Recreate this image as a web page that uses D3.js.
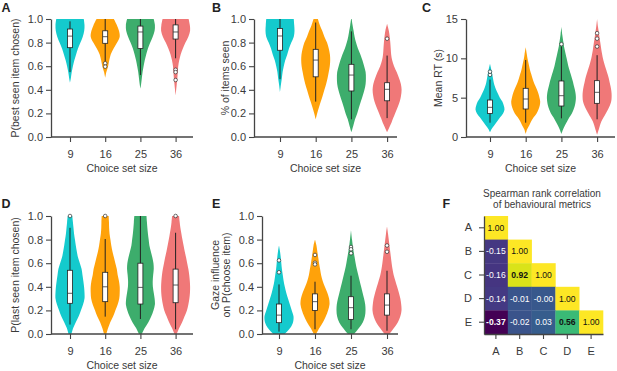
<!DOCTYPE html>
<html>
<head>
<meta charset="utf-8">
<script src="https://cdn.jsdelivr.net/npm/d3@7"></script>
<style>
  body { margin: 0; background: #fff; }
  text { font-family: "Liberation Sans", Arial, sans-serif; }
</style>
</head>
<body>
<div id="canvas"></div>
<script>
// Categories and colours

let sizes = ["9", "16", "25", "36"];
let colors = ["#14CACD", "#FFA20A", "#3DAD6C", "#F07878"];

// Violin profiles: [value, relative half width]

let violinA = [
    [[0.46,0],[0.5,0.06],[0.55,0.12],[0.6,0.2],[0.65,0.3],[0.7,0.42],[0.75,0.55],[0.8,0.72],[0.85,0.88],[0.9,0.98],[0.95,1.0],[1.0,0.95]],
    [[0.5,0],[0.55,0.08],[0.6,0.2],[0.65,0.28],[0.7,0.38],[0.75,0.58],[0.8,0.82],[0.85,1.0],[0.9,0.95],[0.95,0.8],[1.0,0.6]],
    [[0.41,0],[0.45,0.05],[0.5,0.1],[0.55,0.15],[0.6,0.22],[0.65,0.3],[0.7,0.4],[0.75,0.52],[0.8,0.68],[0.85,0.85],[0.9,0.98],[0.95,1.0],[1.0,0.92]],
    [[0.35,0],[0.4,0.04],[0.45,0.08],[0.5,0.12],[0.55,0.15],[0.6,0.18],[0.65,0.25],[0.7,0.35],[0.75,0.5],[0.8,0.68],[0.85,0.88],[0.9,1.0],[0.95,0.98],[1.0,0.9]]
];
let violinB = [
    [[0.38,0],[0.45,0.07],[0.5,0.13],[0.55,0.18],[0.6,0.26],[0.65,0.36],[0.7,0.5],[0.75,0.62],[0.8,0.78],[0.85,0.95],[0.9,1.0],[0.95,0.98],[1.0,0.95]],
    [[0.15,0],[0.2,0.1],[0.25,0.22],[0.3,0.35],[0.35,0.48],[0.4,0.6],[0.45,0.72],[0.5,0.82],[0.55,0.9],[0.6,0.97],[0.65,1.0],[0.7,0.98],[0.75,0.9],[0.8,0.78],[0.85,0.6],[0.9,0.45],[0.95,0.28],[1.0,0.15]],
    [[0.04,0],[0.1,0.14],[0.15,0.25],[0.2,0.4],[0.25,0.52],[0.3,0.65],[0.35,0.78],[0.4,0.9],[0.45,0.98],[0.5,1.0],[0.55,0.98],[0.6,0.88],[0.65,0.76],[0.7,0.62],[0.75,0.45],[0.8,0.32],[0.85,0.22],[0.9,0.15],[0.95,0.08],[1.0,0.02]],
    [[0.04,0],[0.08,0.15],[0.12,0.3],[0.16,0.42],[0.2,0.55],[0.25,0.72],[0.3,0.87],[0.35,0.96],[0.4,1.0],[0.45,0.95],[0.5,0.82],[0.55,0.66],[0.6,0.48],[0.65,0.35],[0.7,0.28],[0.75,0.25],[0.8,0.22],[0.85,0.18],[0.9,0.12],[0.96,0]]
];
let violinC = [
    [[0.6,0],[1,0.1],[1.5,0.3],[2,0.5],[2.5,0.7],[3,0.9],[3.5,1.0],[4,0.95],[4.5,0.85],[5,0.68],[5.5,0.55],[6,0.42],[6.5,0.32],[7,0.25],[7.5,0.2],[8,0.15],[8.5,0.1],[9.3,0]],
    [[0.4,0],[1,0.1],[1.5,0.25],[2,0.38],[2.5,0.55],[3,0.75],[3.5,0.88],[4,0.97],[4.5,1.0],[5,0.95],[5.5,0.88],[6,0.78],[6.5,0.66],[7,0.55],[7.5,0.46],[8,0.38],[8.5,0.3],[9,0.24],[9.5,0.18],[10,0.12],[10.5,0.08],[11.4,0]],
    [[0.4,0],[1,0.12],[1.5,0.25],[2,0.4],[2.5,0.55],[3,0.72],[3.5,0.84],[4,0.93],[4.5,0.98],[5,1.0],[5.5,0.98],[6,0.93],[6.5,0.86],[7,0.8],[7.5,0.72],[8,0.64],[8.5,0.56],[9,0.48],[9.5,0.42],[10,0.36],[10.5,0.3],[11,0.24],[11.5,0.18],[12,0.14],[12.5,0.1],[13,0.06],[14,0]],
    [[0.3,0],[1,0.12],[1.5,0.2],[2,0.3],[2.5,0.45],[3,0.6],[3.5,0.75],[4,0.88],[4.5,0.97],[5,1.0],[5.5,1.0],[6,0.97],[6.5,0.92],[7,0.86],[7.5,0.8],[8,0.72],[8.5,0.64],[9,0.55],[9.5,0.47],[10,0.4],[10.5,0.35],[11,0.3],[11.5,0.26],[12,0.22],[12.5,0.18],[13,0.14],[13.5,0.1],[14,0.06],[15,0]]
];
let violinD = [
    [[0,0.1],[0.05,0.22],[0.1,0.4],[0.15,0.6],[0.2,0.75],[0.25,0.9],[0.3,1.0],[0.35,1.0],[0.4,0.97],[0.45,0.92],[0.5,0.86],[0.55,0.8],[0.6,0.68],[0.65,0.55],[0.7,0.47],[0.75,0.4],[0.8,0.34],[0.85,0.28],[0.9,0.24],[0.95,0.2],[1.0,0.16]],
    [[0,0.08],[0.05,0.2],[0.1,0.35],[0.15,0.55],[0.2,0.7],[0.25,0.86],[0.3,0.97],[0.35,1.0],[0.4,1.0],[0.45,0.95],[0.5,0.86],[0.55,0.8],[0.6,0.7],[0.65,0.6],[0.7,0.5],[0.75,0.42],[0.8,0.36],[0.85,0.3],[0.9,0.27],[0.95,0.26],[1.0,0.24]],
    [[0,0.1],[0.05,0.3],[0.1,0.55],[0.15,0.75],[0.2,0.9],[0.25,1.0],[0.3,0.98],[0.35,0.92],[0.4,0.86],[0.45,0.85],[0.5,0.88],[0.55,0.92],[0.6,0.9],[0.65,0.82],[0.7,0.72],[0.75,0.62],[0.8,0.57],[0.85,0.52],[0.9,0.48],[0.95,0.45],[1.0,0.42]],
    [[0,0.08],[0.05,0.25],[0.1,0.45],[0.15,0.62],[0.2,0.78],[0.25,0.88],[0.3,0.95],[0.35,0.99],[0.4,1.0],[0.45,0.98],[0.5,0.94],[0.55,0.88],[0.6,0.8],[0.65,0.72],[0.7,0.63],[0.75,0.55],[0.8,0.47],[0.85,0.4],[0.9,0.33],[0.95,0.28],[1.0,0.24]]
];
let violinE = [
    [[0,0.4],[0.05,0.77],[0.1,0.97],[0.15,1.0],[0.2,0.88],[0.25,0.75],[0.3,0.62],[0.35,0.5],[0.4,0.4],[0.45,0.32],[0.5,0.26],[0.55,0.2],[0.6,0.16],[0.65,0.12],[0.7,0.07],[0.75,0]],
    [[0,0.08],[0.05,0.3],[0.1,0.55],[0.15,0.75],[0.2,0.9],[0.25,1.0],[0.3,0.97],[0.35,0.85],[0.4,0.68],[0.45,0.53],[0.5,0.42],[0.55,0.35],[0.6,0.28],[0.65,0.22],[0.7,0.16],[0.75,0.1],[0.8,0]],
    [[0,0.22],[0.05,0.55],[0.1,0.82],[0.15,0.96],[0.2,1.0],[0.25,0.98],[0.3,0.9],[0.35,0.8],[0.4,0.7],[0.45,0.6],[0.5,0.5],[0.55,0.4],[0.6,0.32],[0.65,0.25],[0.7,0.18],[0.75,0.12],[0.8,0.07],[0.88,0]],
    [[0,0.17],[0.05,0.48],[0.1,0.75],[0.15,0.92],[0.2,1.0],[0.25,0.98],[0.3,0.92],[0.35,0.82],[0.4,0.7],[0.45,0.58],[0.5,0.46],[0.55,0.38],[0.6,0.32],[0.65,0.27],[0.7,0.22],[0.75,0.17],[0.8,0.12],[0.85,0.07],[0.91,0]]
];

// Box stats: [whisker low, q1, median, q3, whisker high]

let boxA = [[0.55,0.757,0.855,0.915,0.98],[0.64,0.794,0.85,0.90,1.0],[0.525,0.75,0.89,0.94,1.0],[0.667,0.83,0.89,0.95,1.0]];
let boxB = [[0.49,0.735,0.856,0.92,1.0],[0.30,0.51,0.652,0.743,0.97],[0.15,0.39,0.525,0.616,0.895],[0.16,0.307,0.404,0.46,0.69]];
let boxC = [[1.82,3.0,3.77,4.7,7.3],[1.82,3.56,4.83,6.19,9.79],[2.37,3.94,5.25,7.12,11.5],[2.25,4.28,5.68,7.16,10.4]];
let boxD = [[0.08,0.26,0.345,0.54,0.9],[0.147,0.274,0.4,0.523,0.805],[0.127,0.254,0.395,0.6,1.0],[0.04,0.265,0.415,0.55,0.858]];
let boxE = [[0.02,0.096,0.16,0.254,0.42],[0.04,0.2,0.274,0.34,0.443],[0.04,0.124,0.223,0.316,0.494],[0.028,0.16,0.245,0.34,0.536]];

let outliersA = [[], [0.625, 0.596], [], [0.57, 0.55, 0.483]];
let outliersB = [[], [], [], [0.833]];
let outliersC = [[7.9, 8.3], [], [11.8], [11.5, 12.5, 13.2]];
let outliersD = [[1.0], [1.0], [], [1.0]];
let outliersE = [[0.624, 0.523], [0.67, 0.604, 0.59], [0.737, 0.718, 0.684], [0.75, 0.697]];

// Correlation matrix (lower triangle), labels as printed

let metrics = ["A", "B", "C", "D", "E"];
let corrRows = [
    [1.00],
    [-0.15, 1.00],
    [-0.16, 0.92, 1.00],
    [-0.14, -0.01, -0.00, 1.00],
    [-0.37, -0.02, 0.03, 0.56, 1.00]
];
let corrLabels = [
    ["1.00"],
    ["-0.15", "1.00"],
    ["-0.16", "0.92", "1.00"],
    ["-0.14", "-0.01", "-0.00", "1.00"],
    ["-0.37", "-0.02", "0.03", "0.56", "1.00"]
];
let corrBold = [
    [false],
    [false, false],
    [false, true, false],
    [false, false, false, false],
    [true, false, false, true, false]
];

let corrTitle = ["Spearman rank correlation", "of behavioural metrics"];
let xlab = "Choice set size";

// Drawing area

let W = 617, H = 371;
let ink = "#3a3a3a";
let spine = "#444";

let svg = d3.select("#canvas")
    .append("svg")
    .attr("width", W)
    .attr("height", H)
    .style("background-color", "#fff");

let maxHalf = 14.5;

function violinPanel(p) {

    let g = svg.append("g");

    let yScale = d3.scaleLinear().domain(p.yDomain).range([p.bottom, p.top]);
    let xScale = d3.scalePoint().domain(sizes).range([p.first, p.first + 3 * p.step]);

    // violins
    sizes.forEach((s, i) => {
        let cx = xScale(s);
        let area = d3.area()
            .curve(d3.curveCatmullRom)
            .y((d) => yScale(d[0]))
            .x0((d) => cx - d[1] * maxHalf)
            .x1((d) => cx + d[1] * maxHalf);

        g.append("path")
            .datum(p.violins[i])
            .attr("d", area)
            .style("fill", colors[i])
            .style("stroke", "none");

        let b = p.boxes[i];

        g.append("line")
            .attr("x1", cx).attr("x2", cx)
            .attr("y1", yScale(b[0])).attr("y2", yScale(b[4]))
            .style("stroke", "#222")
            .style("stroke-width", 1);

        g.append("rect")
            .attr("x", cx - 2.5)
            .attr("y", yScale(b[3]))
            .attr("width", 5)
            .attr("height", yScale(b[1]) - yScale(b[3]))
            .style("fill", "#fff")
            .style("stroke", "#222")
            .style("stroke-width", 0.8);

        g.append("line")
            .attr("x1", cx - 2.5).attr("x2", cx + 2.5)
            .attr("y1", yScale(b[2])).attr("y2", yScale(b[2]))
            .style("stroke", "#333")
            .style("stroke-width", 0.8);

        g.selectAll(null)
            .data(p.outliers[i])
            .enter()
            .append("circle")
            .attr("cx", cx)
            .attr("cy", (d) => yScale(d))
            .attr("r", 1.8)
            .style("fill", "#fff")
            .style("stroke", "#333")
            .style("stroke-width", 0.7);
    });

    // axes
    let yAxis = g.append("g")
        .attr("transform", "translate(" + p.spineX + ", 0)")
        .call(d3.axisLeft(yScale)
            .tickValues(p.yTicks)
            .tickFormat(p.yFormat)
            .tickSize(5)
            .tickSizeOuter(0)
            .tickPadding(3));

    let xAxis = g.append("g")
        .attr("transform", "translate(0, " + p.bottom + ")")
        .call(d3.axisBottom(xScale).tickSize(5).tickPadding(8));
    xAxis.select(".domain").remove();

    g.append("line")
        .attr("x1", p.spineX).attr("x2", p.axisEnd)
        .attr("y1", p.bottom).attr("y2", p.bottom)
        .style("stroke", spine)
        .style("stroke-width", 1.3);

    [yAxis, xAxis].forEach((a) => {
        a.selectAll(".domain").style("stroke", spine).style("stroke-width", 1.3);
        a.selectAll(".tick line").style("stroke", spine).style("stroke-width", 1.1);
        a.selectAll(".tick text")
            .style("font-family", "Liberation Sans")
            .style("font-size", "11px")
            .style("fill", ink);
    });

    // labels
    g.append("text")
        .attr("x", (p.spineX + p.axisEnd) / 2)
        .attr("y", p.bottom + 34.5)
        .style("font-size", "10.5px")
        .style("text-anchor", "middle")
        .style("fill", ink)
        .text(xlab);

    let cy = (p.top + p.bottom) / 2;
    p.ylab.forEach((line, k) => {
        g.append("text")
            .attr("transform", "translate(" + p.ylabX[k] + ", " + cy + ") rotate(-90)")
            .attr("dy", "0.35em")
            .style("font-size", "10.5px")
            .style("text-anchor", "middle")
            .style("fill", ink)
            .text(line);
    });

    g.append("text")
        .attr("x", p.letterX)
        .attr("y", p.letterY)
        .style("font-size", "12.5px")
        .style("font-weight", 700)
        .style("fill", "#222")
        .text(p.letter);
}

let fmt1 = d3.format(".1f");
let ticks01 = [0, 0.2, 0.4, 0.6, 0.8, 1.0];

violinPanel({letter: "A", letterX: 1.5, letterY: 12, ylab: ["P(best seen item chosen)"], ylabX: [15],
    yDomain: [0, 1], yTicks: ticks01, yFormat: fmt1, top: 19, bottom: 137,
    spineX: 51, axisEnd: 193, first: 70, step: 35.2,
    violins: violinA, boxes: boxA, outliers: outliersA});

violinPanel({letter: "B", letterX: 212, letterY: 12, ylab: ["% of items seen"], ylabX: [225],
    yDomain: [0, 1], yTicks: ticks01, yFormat: fmt1, top: 19, bottom: 137,
    spineX: 254, axisEnd: 397, first: 280, step: 35.7,
    violins: violinB, boxes: boxB, outliers: outliersB});

violinPanel({letter: "C", letterX: 422, letterY: 12, ylab: ["Mean RT (s)"], ylabX: [438],
    yDomain: [0, 15], yTicks: [0, 5, 10, 15], yFormat: d3.format("d"), top: 19, bottom: 137,
    spineX: 466, axisEnd: 615, first: 490, step: 35.7,
    violins: violinC, boxes: boxC, outliers: outliersC});

violinPanel({letter: "D", letterX: 1.5, letterY: 208, ylab: ["P(last seen item chosen)"], ylabX: [15],
    yDomain: [0, 1], yTicks: ticks01, yFormat: fmt1, top: 216, bottom: 334,
    spineX: 51, axisEnd: 193, first: 70, step: 35.2,
    violins: violinD, boxes: boxD, outliers: outliersD});

violinPanel({letter: "E", letterX: 212, letterY: 208, ylab: ["Gaze influence", "on P(choose item)"], ylabX: [215, 226.5],
    yDomain: [0, 1], yTicks: ticks01, yFormat: fmt1, top: 216, bottom: 334,
    spineX: 262, axisEnd: 398, first: 279, step: 36,
    violins: violinE, boxes: boxE, outliers: outliersE});

// Heatmap (panel F)

let hx = d3.scaleBand().domain(metrics).range([484, 603]);
let hy = d3.scaleBand().domain(metrics).range([216, 334]);
let color = d3.scaleSequential(d3.interpolateViridis).domain([-0.37, 1]);

let cells = [];
corrRows.forEach((row, r) => {
    row.forEach((v, c) => {
        cells.push({row: metrics[r], col: metrics[c], v: v, label: corrLabels[r][c], bold: corrBold[r][c]});
    });
});

let hg = svg.append("g");

hg.selectAll("rect")
    .data(cells)
    .enter()
    .append("rect")
    .attr("x", (d) => hx(d.col))
    .attr("y", (d) => hy(d.row))
    .attr("width", hx.bandwidth() + 0.3)
    .attr("height", hy.bandwidth() + 0.3)
    .style("fill", (d) => color(d.v));

hg.selectAll(".val")
    .data(cells)
    .enter()
    .append("text")
    .attr("class", "val")
    .attr("x", (d) => hx(d.col) + hx.bandwidth() / 2)
    .attr("y", (d) => hy(d.row) + hy.bandwidth() / 2)
    .attr("dy", "0.35em")
    .style("font-size", "8.6px")
    .style("font-weight", (d) => d.bold ? 700 : 400)
    .style("text-anchor", "middle")
    .style("fill", (d) => d.v > 0.4 ? "#111" : "#fff")
    .text((d) => d.label);

let hyAxis = hg.append("g")
    .attr("transform", "translate(484, 0)")
    .call(d3.axisLeft(hy).tickSize(5).tickSizeOuter(0).tickPadding(7));
let hxAxis = hg.append("g")
    .attr("transform", "translate(0, 334)")
    .call(d3.axisBottom(hx).tickSize(5).tickSizeOuter(0).tickPadding(8));

[hyAxis, hxAxis].forEach((a) => {
    a.selectAll(".domain").style("stroke", spine).style("stroke-width", 1.3);
    a.selectAll(".tick line").style("stroke", spine).style("stroke-width", 1.1);
    a.selectAll(".tick text")
        .style("font-family", "Liberation Sans")
        .style("font-size", "11px")
        .style("fill", ink);
});

corrTitle.forEach((line, k) => {
    hg.append("text")
        .attr("x", 542)
        .attr("y", 196.5 + k * 11)
        .style("font-size", "10px")
        .style("text-anchor", "middle")
        .style("fill", ink)
        .text(line);
});

hg.append("text")
    .attr("x", 442.5)
    .attr("y", 208)
    .style("font-size", "12.5px")
    .style("font-weight", 700)
    .style("fill", "#222")
    .text("F");
</script>
</body>
</html>
